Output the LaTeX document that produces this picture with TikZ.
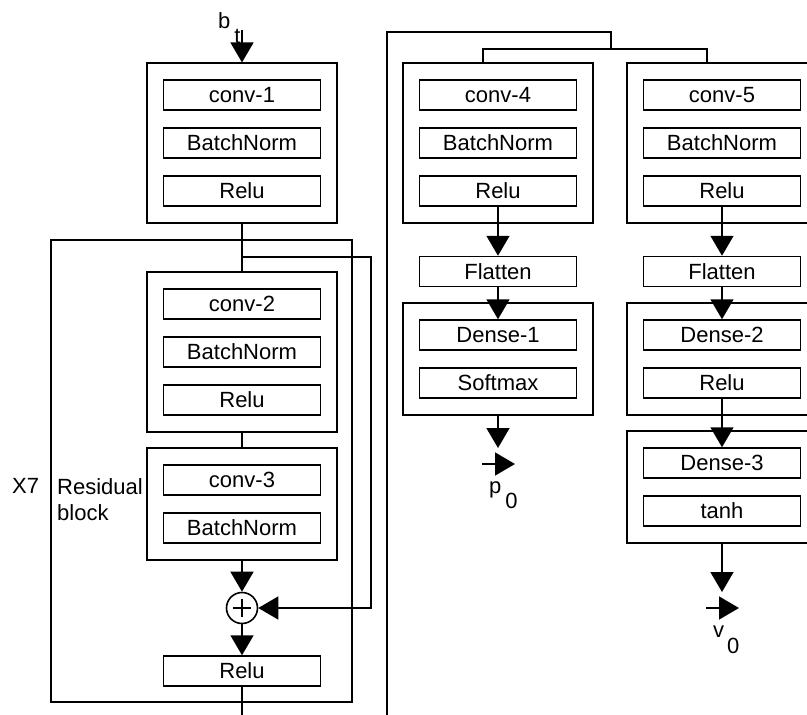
\documentclass[tikz,border=0pt]{standalone}
\usepackage{fontspec}
\setmainfont{Liberation Sans}
\usepackage{tikz}
\usetikzlibrary{arrows.meta, fit, positioning}

\tikzset{
  layer/.style={draw, line width=1.5pt, minimum width=157pt, minimum height=30pt, inner sep=0pt, font=\fontsize{22}{26}\selectfont},
  group/.style={draw, line width=1.6pt, inner sep=16pt},
  wire/.style={line width=1.6pt},
  flow/.style={line width=1.6pt, -{Triangle[width=23pt,length=20pt]}},
  tag/.style={inner sep=0pt, font=\fontsize{22}{26}\selectfont},
}

\begin{document}
\begin{tikzpicture}[x=1pt, y=-1pt]
		\useasboundingbox (0,0) rectangle (807,715);
		\clip (0,0) rectangle (807,715);
		% Tronco comun
		\node[layer] (conv1) at (242,95) {conv-1};
		\node[layer] (bn1) at (242,143) {BatchNorm};
		\node[layer] (relu1) at (242,191) {Relu};
		\node[group, fit=(conv1)(relu1)] (blk1) {};
		% Bloque residual
		\node[layer] (conv2) at (242,304) {conv-2};
		\node[layer] (bn2) at (242,352) {BatchNorm};
		\node[layer] (relu2) at (242,400) {Relu};
		\node[group, fit=(conv2)(relu2)] (blk2) {};
		\node[layer] (conv3) at (242,480) {conv-3};
		\node[layer] (bn3) at (242,528) {BatchNorm};
		\node[group, fit=(conv3)(bn3)] (blk3) {};
		\node[draw, circle, line width=1.6pt, minimum size=31pt, inner sep=0pt,
		  path picture={\draw[line width=1.4pt] ([xshift=-9pt]path picture bounding box.center) -- ([xshift=9pt]path picture bounding box.center);
		    \draw[line width=1.4pt] ([yshift=-9pt]path picture bounding box.center) -- ([yshift=9pt]path picture bounding box.center);}] (add) at (242,608) {};
		\node[layer] (relu3) at (242,671) {Relu};
		\draw[wire] (51,240) rectangle (352,702);
		\node[tag, anchor=base west] (rep) at (12,493) {X7};
		\node[tag, anchor=north west, align=left] (res) at (57,478) {Residual\\block};
		% Cabeza de politica
		\node[layer] (conv4) at (498,95) {conv-4};
		\node[layer] (bn4) at (498,143) {BatchNorm};
		\node[layer] (relu4) at (498,191) {Relu};
		\node[group, fit=(conv4)(relu4)] (blk4) {};
		\node[layer] (flat1) at (498,271.5) {Flatten};
		\node[layer] (dense1) at (498,335) {Dense-1};
		\node[layer] (soft) at (498,383) {Softmax};
		\node[group, fit=(dense1)(soft)] (blk5) {};
		% Cabeza de valor
		\node[layer] (conv5) at (722,95) {conv-5};
		\node[layer] (bn5) at (722,143) {BatchNorm};
		\node[layer] (relu5) at (722,191) {Relu};
		\node[group, fit=(conv5)(relu5)] (blk6) {};
		\node[layer] (flat2) at (722,271.5) {Flatten};
		\node[layer] (dense2) at (722,335) {Dense-2};
		\node[layer] (relu6) at (722,383) {Relu};
		\node[group, fit=(dense2)(relu6)] (blk7) {};
		\node[layer] (dense3) at (722,463) {Dense-3};
		\node[layer] (tanh) at (722,511) {tanh};
		\node[group, fit=(dense3)(tanh)] (blk8) {};
		% Entradas y salidas
		\node[tag, anchor=base west] (bt) at (218,28) {b\hspace{4pt}\raisebox{-15pt}{t}};
		\node[tag, anchor=base west] (p0) at (489,493) {p\hspace{4pt}\raisebox{-15pt}{0}};
		\node[tag, anchor=base west] (v0) at (713,637) {v\hspace{3pt}\raisebox{-16pt}{0}};
		\coordinate (in) at (242,30);
		\coordinate (skip) at (242,257);
		\coordinate (skipr) at (371,257);
		\coordinate (out1) at (242,715);
		\coordinate (out2) at (387,715);
		\coordinate (top1) at (387,32);
		\coordinate (split) at (611,49);
		\coordinate (s4) at (483,49);
		\coordinate (s5) at (707,49);
		\coordinate (pend) at (498,448);
		\coordinate (pa) at (482,464);
		\coordinate (pb) at (515,464);
		\coordinate (vend) at (722,592);
		\coordinate (va) at (706,608);
		\coordinate (vb) at (739,608);
		% Conexiones
		\draw[flow] (in) -- (blk1.north);
		\draw[wire] (blk1.south) -- (blk2.north);
		\draw[wire] (blk2.south) -- (blk3.north);
		\draw[flow] (blk3.south) -- (add.north);
		\draw[flow] (add.south) -- (relu3.north);
		\draw[wire] (relu3.south) -- (out1);
		\draw[flow] (skip) -- (skipr) |- (add.east);
		\draw[wire] (out2) -- (top1) -| (split);
		\draw[wire] (s4 |- blk4.north) -- (s4) -- (s5) -- (s5 |- blk6.north);
		\draw[flow] (relu4.south) -- (flat1.north);
		\draw[flow] (flat1.south) -- (dense1.north);
		\draw[flow] (blk5.south) -- (pend);
		\draw[flow] (pa) -- (pb);
		\draw[flow] (relu5.south) -- (flat2.north);
		\draw[flow] (flat2.south) -- (dense2.north);
		\draw[flow] (relu6.south) -- (dense3.north);
		\draw[flow] (blk8.south) -- (vend);
		\draw[flow] (va) -- (vb);
	\end{tikzpicture}
\end{document}
